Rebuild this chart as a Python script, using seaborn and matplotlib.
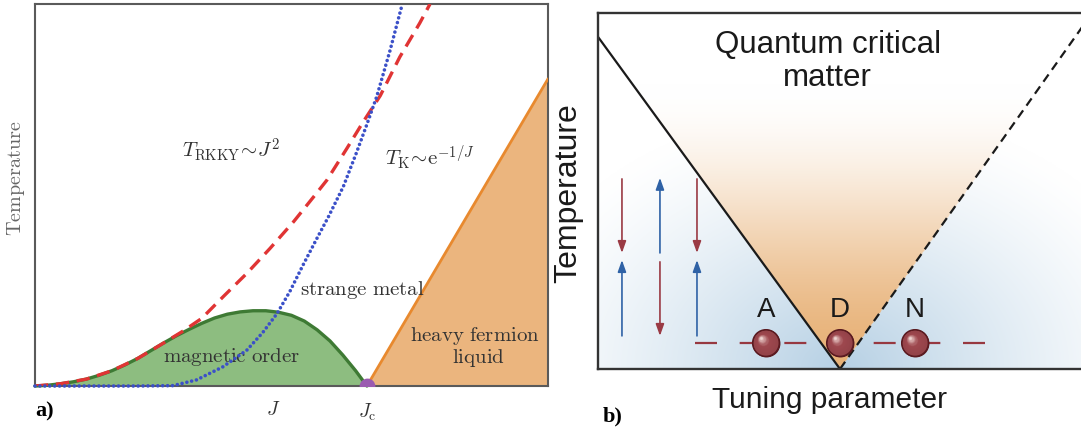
import numpy as np
import matplotlib
matplotlib.use("Agg")
import matplotlib.pyplot as plt
import matplotlib.transforms as mtransforms
import seaborn as sns

# ---------------- panel a: Doniach phase diagram (J and T scaled to the box) -------------
J_TICK = 0.464
J_C = 0.647

dome_J = [0.0, 0.025, 0.05, 0.075, 0.10, 0.125, 0.15, 0.175, 0.20, 0.225, 0.25, 0.275,
          0.30, 0.325, 0.35, 0.375, 0.40, 0.425, 0.45, 0.475, 0.50, 0.525, 0.55, 0.575,
          0.60, 0.625, 0.647]
dome_T = [0.0, 0.002, 0.006, 0.011, 0.018, 0.028, 0.040, 0.055, 0.072, 0.092, 0.112, 0.131,
          0.148, 0.164, 0.178, 0.188, 0.194, 0.197, 0.197, 0.193, 0.185, 0.170, 0.147, 0.118,
          0.081, 0.040, 0.0]

rkky_J = [0.0, 0.05, 0.10, 0.15, 0.20, 0.25, 0.29, 0.325, 0.367, 0.413, 0.458, 0.504,
          0.546, 0.569, 0.608, 0.640, 0.673, 0.711, 0.750, 0.770]
rkky_T = [0.0, 0.006, 0.018, 0.040, 0.072, 0.112, 0.145, 0.177, 0.234, 0.295, 0.360, 0.430,
          0.500, 0.539, 0.622, 0.692, 0.760, 0.861, 0.950, 1.0]

kondo_J = [0.0, 0.10, 0.20, 0.269, 0.315, 0.366, 0.413, 0.444, 0.472, 0.497, 0.523, 0.549,
           0.572, 0.601, 0.627, 0.647, 0.666, 0.692, 0.715]
kondo_T = [0.0, 0.0, 0.0, 0.001, 0.016, 0.050, 0.094, 0.140, 0.190, 0.248, 0.318, 0.385,
           0.443, 0.522, 0.612, 0.685, 0.757, 0.878, 0.995]

fermi_J = [0.647, 1.0]
fermi_T = [0.0, 0.804]

# ---------------- panel b: quantum critical fan (tuning parameter, QCP at 0) ------------
fan_left_g = [-1.0, 0.0]
fan_left_T = [0.933, 0.0]
fan_right_g = [0.0, 1.0]
fan_right_T = [0.0, 0.96]

ball_g = [-0.306, 0.0, 0.310]
ball_T = [0.073, 0.073, 0.073]
ball_names = ["A", "D", "N"]

track_g = [-0.599, 0.603]
track_T = [0.073, 0.073]

# spin arrows: (g, T_tail, T_head)
red_arrows = [(-0.901, 0.534, 0.326), (-0.744, 0.301, 0.093), (-0.591, 0.534, 0.326)]
blue_arrows = [(-0.901, 0.093, 0.306), (-0.744, 0.326, 0.537), (-0.591, 0.093, 0.306)]

sns.set_style("white")
plt.rcParams["font.family"] = ["Liberation Sans", "DejaVu Sans"]
plt.rcParams["mathtext.fontset"] = "cm"

W, H = 1081, 429
fig = plt.figure(figsize=(W / 100, H / 100), dpi=100)
fig.patch.set_facecolor("white")

# ======================= panel a =======================
axa = fig.add_axes([35 / W, (H - 386) / H, 513 / W, 382 / H])
axa.set_xlim(0, 1)
axa.set_ylim(0, 1)

axa.fill_between(fermi_J + [1.0], fermi_T + [0.0], 0, color="#EBB57E", lw=0, zorder=1)
sns.lineplot(x=fermi_J, y=fermi_T, ax=axa, color="#E8892E", lw=2.0, zorder=3)

axa.fill_between(dome_J, dome_T, 0, color="#8DBD80", lw=0, zorder=1)
sns.lineplot(x=dome_J, y=dome_T, ax=axa, color="#3E7A34", lw=2.4, zorder=3,
             clip_on=False)

sns.lineplot(x=rkky_J, y=rkky_T, ax=axa, color="#E03434", lw=2.4, zorder=4,
             linestyle=(0, (4.0, 2.3)), clip_on=True)
sns.lineplot(x=kondo_J, y=kondo_T, ax=axa, color="#3B50C8", lw=2.6, zorder=5,
             linestyle=(0, (0.01, 1.35)), dash_capstyle="round", clip_on=False)

axa.scatter([J_C], [0], s=130, color="#9A5BB0", zorder=6, clip_on=True, lw=0)

txt_kw = dict(color="#333333", fontsize=15, ha="center", va="center")
axa.text(0.382, 0.618, r"$T_{\mathrm{RKKY}}\!\sim\!J^{2}$", **txt_kw)
axa.text(0.770, 0.597, r"$T_{\mathrm{K}}\!\sim\!\mathrm{e}^{-1/J}$", **txt_kw)
axa.text(0.639, 0.251, r"$\mathrm{strange\ metal}$", **txt_kw)
axa.text(0.383, 0.076, r"$\mathrm{magnetic\ order}$", **txt_kw)
axa.text(0.858, 0.131, r"$\mathrm{heavy\ fermion}$", **txt_kw)
axa.text(0.865, 0.073, r"$\mathrm{liquid}$", **txt_kw)

axa.set_xticks([J_TICK, J_C])
axa.set_xticklabels([r"$J$", r"$J_{\mathrm{c}}$"], fontsize=14, color="#333333")
axa.set_yticks([])
axa.tick_params(axis="x", length=0, pad=11)
for sp in axa.spines.values():
    sp.set_color("#5a5a5a")
    sp.set_linewidth(1.5)
    sp.set_zorder(2)

fig.text(16 / W, 1 - 178 / H, r"$\mathrm{Temperature}$", rotation=90, ha="center",
         va="center", fontsize=14.5, color="#666666")
fig.text(35 / W, 1 - 411 / H, "a)", ha="left", va="center", fontsize=16,
         fontweight="bold", family=["Liberation Serif", "DejaVu Serif"], color="black")

# ======================= panel b =======================
G0, G1 = -1.0, 1.05
PX_G, PX_T = 242.0, 356.0
axb = fig.add_axes([598 / W, (H - 369) / H, (G1 - G0) * PX_G / W, PX_T / H])
axb.set_xlim(G0, G1)
axb.set_ylim(0, 1)

# shaded background: warm fan above the critical point, cool haze beside it
gg, tt = np.meshgrid(np.linspace(G0, G1, 620), np.linspace(0, 1, 420))
slope_l = fan_left_T[0] / -fan_left_g[0]
slope_r = fan_right_T[1] / fan_right_g[1]
inside = np.where(gg < 0, tt >= -slope_l * gg, tt >= slope_r * gg)
u = np.clip(1 - tt / 0.80, 0, 1)
a_or = u * u * (3 - 2 * u)
dist = np.sqrt((gg * PX_G) ** 2 + (1.3 * tt * PX_T) ** 2)
a_bl = np.clip(1 - dist / 340.0, 0, 1) ** 1.3
orange = np.array([232, 178, 120]) / 255.0
blue = np.array([182, 208, 228]) / 255.0
alpha = np.where(inside, a_or, a_bl)[..., None]
base = np.where(inside[..., None], orange, blue)
img = 1 - alpha * (1 - base)
axb.imshow(img, extent=[G0, G1, 0, 1], origin="lower", aspect="auto",
           interpolation="bilinear", zorder=0)

sns.lineplot(x=fan_left_g, y=fan_left_T, ax=axb, color="#1a1a1a", lw=1.6, zorder=3)
sns.lineplot(x=fan_right_g, y=fan_right_T, ax=axb, color="#1a1a1a", lw=1.6, zorder=3,
             linestyle=(0, (4.0, 2.6)))
sns.lineplot(x=track_g, y=track_T, ax=axb, color="#973840", lw=1.6, zorder=2,
             linestyle=(0, (9.9, 10.2)))

for g, t0, t1 in red_arrows:
    axb.annotate("", xy=(g, t1), xytext=(g, t0), zorder=4,
                 arrowprops=dict(arrowstyle="-|>,head_length=0.7,head_width=0.25",
                                 color="#9A3A44", lw=1.2, mutation_scale=10,
                                 shrinkA=0, shrinkB=0))
for g, t0, t1 in blue_arrows:
    axb.annotate("", xy=(g, t1), xytext=(g, t0), zorder=4,
                 arrowprops=dict(arrowstyle="-|>,head_length=0.7,head_width=0.25",
                                 color="#2F62A6", lw=1.2, mutation_scale=10,
                                 shrinkA=0, shrinkB=0))

# shaded spheres built from nested discs drifting toward the highlight
R_PT = 9.6
mid = np.array([146, 66, 72]) / 255.0
light = np.array([238, 212, 208]) / 255.0
axb.scatter(ball_g, ball_T, s=(2 * R_PT) ** 2, color=mid, edgecolor="#5a1a20",
            lw=0.9, zorder=5)
n_layers = 26
for k in range(1, n_layers):
    f = k / (n_layers - 1)
    r = R_PT * (1 - 0.92 * f)
    if f < 0.55:
        c = mid * (1 + 0.08 * f / 0.55)
    else:
        c = mid * 1.08 + (light - mid * 1.08) * ((f - 0.55) / 0.45) ** 1.4
    c = np.clip(c, 0, 1)
    tr = mtransforms.offset_copy(axb.transData, fig=fig, x=-0.38 * R_PT * f,
                                 y=0.38 * R_PT * f, units="points")
    axb.scatter(ball_g, ball_T, s=(2 * r) ** 2, color=c, lw=0, zorder=5 + 0.01 * k,
                transform=tr)
axb.scatter(ball_g, ball_T, s=(2 * R_PT) ** 2, facecolor="none", edgecolor="#5a1a20",
            lw=1.0, zorder=6)

for g, name in zip(ball_g, ball_names):
    axb.text(g, 0.146, name, ha="center", va="baseline", fontsize=20, color="#1a1a1a",
             zorder=6)

axb.text(-0.05, 0.8865, "Quantum critical", ha="center", va="baseline", fontsize=22.5,
         color="#1a1a1a")
axb.text(-0.05, 0.795, "matter", ha="center", va="baseline", fontsize=22.5,
         color="#1a1a1a")

axb.set_xticks([])
axb.set_yticks([])
for name, sp in axb.spines.items():
    sp.set_color("#333333")
    sp.set_linewidth(1.7)
    sp.set_zorder(7)
axb.spines["right"].set_visible(False)

fig.text(568 / W, 1 - 193 / H, "Temperature", rotation=90, ha="center", va="center",
         fontsize=23, color="#1a1a1a")
fig.text(830 / W, 1 - 408 / H, "Tuning parameter", ha="center", va="baseline",
         fontsize=21.5, color="#1a1a1a")
fig.text(603 / W, 1 - 416 / H, "b)", ha="left", va="center", fontsize=16,
         fontweight="bold", family=["Liberation Serif", "DejaVu Serif"], color="black")

fig.savefig("out.png", dpi=100, facecolor="white")
